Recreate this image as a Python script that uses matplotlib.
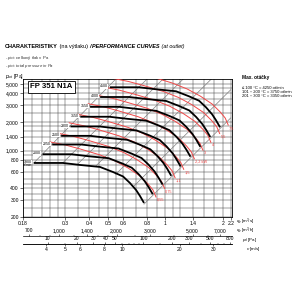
import matplotlib.pyplot as plt
import numpy as np
from matplotlib.ticker import NullFormatter

plt.rcParams['font.family'] = ['Liberation Sans', 'DejaVu Sans']
plt.rcParams['mathtext.fontset'] = 'custom'
plt.rcParams['mathtext.rm'] = 'Liberation Sans'
plt.rcParams['mathtext.it'] = 'Liberation Sans:italic'
plt.rcParams['mathtext.bf'] = 'Liberation Sans:bold'

# fan curves for each speed (q in m3/s, p_tot in Pa)
speed_labels = ["1800", "2000", "2250", "2500", "2800", "3150", "3550", "4000", "4500"]
black_q = [
    [0.205, 0.291, 0.358, 0.455, 0.532, 0.601, 0.653, 0.703, 0.737, 0.774],
    [0.228, 0.323, 0.398, 0.506, 0.591, 0.668, 0.726, 0.781, 0.819, 0.860],
    [0.256, 0.364, 0.448, 0.569, 0.665, 0.751, 0.816, 0.879, 0.921, 0.968],
    [0.285, 0.404, 0.497, 0.632, 0.739, 0.835, 0.907, 0.976, 1.024, 1.075],
    [0.319, 0.453, 0.557, 0.708, 0.828, 0.935, 1.016, 1.094, 1.146, 1.204],
    [0.359, 0.509, 0.627, 0.796, 0.931, 1.052, 1.143, 1.230, 1.290, 1.355],
    [0.404, 0.574, 0.706, 0.897, 1.049, 1.185, 1.288, 1.386, 1.454, 1.527],
    [0.456, 0.647, 0.796, 1.011, 1.182, 1.336, 1.451, 1.562, 1.638, 1.720],
    [0.513, 0.728, 0.895, 1.138, 1.330, 1.503, 1.633, 1.758, 1.843, 1.935],
]
black_p = [
    [740, 740, 705, 672, 595, 534, 456, 385, 333, 281],
    [914, 914, 870, 830, 735, 659, 563, 475, 411, 347],
    [1156, 1156, 1102, 1050, 930, 834, 713, 602, 520, 439],
    [1427, 1427, 1360, 1296, 1148, 1030, 880, 743, 642, 542],
    [1791, 1791, 1706, 1626, 1440, 1292, 1103, 932, 806, 680],
    [2266, 2266, 2159, 2058, 1822, 1635, 1397, 1179, 1020, 861],
    [2878, 2878, 2742, 2614, 2314, 2077, 1774, 1498, 1295, 1093],
    [3654, 3654, 3481, 3319, 2938, 2637, 2252, 1901, 1644, 1388],
    [4625, 4625, 4406, 4200, 3719, 3338, 2850, 2406, 2081, 1756],
]

# motor power limit curves (kW)
power_labels = ["0,55", "0,75", "1,1", "1,5", "2,2 kW", "3", "4", "5,5", "7,5"]
red_q = [
    [0.249, 0.299, 0.358, 0.455, 0.546, 0.638, 0.737, 0.812, 0.862, 0.894],
    [0.276, 0.331, 0.396, 0.504, 0.605, 0.707, 0.817, 0.900, 0.956, 0.991],
    [0.314, 0.376, 0.450, 0.573, 0.687, 0.803, 0.929, 1.023, 1.086, 1.126],
    [0.348, 0.417, 0.499, 0.636, 0.762, 0.891, 1.030, 1.134, 1.204, 1.249],
    [0.395, 0.474, 0.567, 0.722, 0.866, 1.012, 1.170, 1.289, 1.368, 1.419],
    [0.438, 0.526, 0.629, 0.801, 0.960, 1.123, 1.298, 1.430, 1.518, 1.574],
    [0.483, 0.578, 0.693, 0.882, 1.057, 1.236, 1.428, 1.574, 1.670, 1.732],
    [0.536, 0.643, 0.770, 0.980, 1.175, 1.374, 1.588, 1.749, 1.857, 1.926],
    [0.595, 0.713, 0.854, 1.087, 1.303, 1.523, 1.760, 1.940, 2.059, 2.136],
]
red_p = [
    [1232, 1145, 1039, 899, 777, 656, 540, 445, 385, 325],
    [1515, 1408, 1277, 1105, 955, 807, 664, 547, 473, 400],
    [1956, 1818, 1649, 1427, 1233, 1041, 857, 706, 611, 516],
    [2404, 2235, 2028, 1755, 1516, 1280, 1054, 868, 751, 634],
    [3104, 2885, 2618, 2265, 1958, 1653, 1361, 1121, 970, 819],
    [3819, 3550, 3221, 2787, 2409, 2034, 1674, 1380, 1194, 1008],
    [4627, 4300, 3902, 3376, 2918, 2464, 2028, 1671, 1446, 1220],
    [5718, 5315, 4823, 4173, 3607, 3045, 2506, 2066, 1787, 1509],
    [7030, 6533, 5928, 5130, 4434, 3743, 3081, 2539, 2197, 1854],
]

# system lines (p ~ q^2): lower and upper ends
diag_q = [(0.205, 0.551), (0.291, 0.803), (0.345, 0.974), (0.43, 1.242),
          (0.55, 1.743), (0.68, 2.2), (0.774, 2.2)]
diag_p = [(740, 5650), (742, 5650), (708, 5650), (678, 5650),
          (562, 5650), (416, 4350), (273, 2200)]

x_ticks = [0.18, 0.3, 0.4, 0.5, 0.6, 0.8, 1, 1.4, 2, 2.2]
x_labels = ["0.18", "0.3", "0.4", "0.5", "0.6", "0.8", "1", "1.4", "2", "2.2"]
x_grid = [0.2, 0.225, 0.25, 0.275, 0.35, 0.45, 0.55, 0.7, 0.9, 1.1, 1.2, 1.6, 1.8]
y_ticks = [200, 300, 400, 600, 800, 1000, 1400, 2000, 3000, 4000, 5000]
y_labels = ["200", "300", "400", "600", "800", "1,000", "1,400", "2,000",
            "3,000", "4,000", "5,000"]
y_grid = [250, 350, 450, 500, 700, 900, 1200, 1600, 1800, 2500, 3500, 4500]
m3h_ticks = [700, 1000, 1400, 2000, 3000, 5000, 7000]
m3h_labels = ["700", "1,000", "1,400", "2,000", "3,000", "5,000", "7,000"]
m3h_minor = [800, 900, 1200, 1600, 1800, 2500, 4000, 6000]
pd_ticks = [10, 20, 30, 40, 50, 100, 200, 300, 500, 800]
pd_minor = [15, 60, 70, 80, 90, 150, 400, 600, 700]
v_ticks = [4, 5, 6, 8, 10, 20, 30]
v_minor = [7, 9, 15, 25]

duct_area = 0.0595  # m2, from the velocity scale
RED = '#f04848'
FS = 3.6


def to_m3h(q):
    return np.asarray(q) * 3600.0


def from_m3h(x):
    return np.asarray(x) / 3600.0


def to_pd(q):
    return 0.6 * (np.asarray(q) / duct_area) ** 2


def from_pd(pd):
    return duct_area * np.sqrt(np.clip(pd, 1e-9, None) / 0.6)


def to_v(q):
    return np.asarray(q) / duct_area


def from_v(v):
    return np.asarray(v) * duct_area


fig = plt.figure(figsize=(3, 3), dpi=100)
ax = fig.add_axes([23 / 300, 83 / 300, 209 / 300, 138 / 300])
ax.set_xscale('log')
ax.set_yscale('log')
ax.set_xlim(0.18, 2.235)
ax.set_ylim(200, 5650)

ax.set_xticks(x_ticks, labels=x_labels)
ax.set_xticks(x_grid, minor=True)
ax.set_yticks(y_ticks, labels=y_labels)
ax.set_yticks(y_grid, minor=True)
ax.xaxis.set_minor_formatter(NullFormatter())
ax.yaxis.set_minor_formatter(NullFormatter())
ax.tick_params(which='major', labelsize=FS, length=2, width=0.4, pad=1)
ax.tick_params(which='minor', length=0)
ax.grid(which='both', color='#3c3c3c', lw=0.35)
ax.set_axisbelow(True)
for s in ax.spines.values():
    s.set_linewidth(0.6)

for qq, pp in zip(diag_q, diag_p):
    ax.plot(qq, pp, color='#808080', lw=0.5, zorder=2)

for qq, pp, lbl in zip(red_q, red_p, power_labels):
    ax.plot(qq, pp, color=RED, lw=0.7, zorder=3)
    ax.annotate(lbl, xy=(qq[-1], pp[-1]), xytext=(0.6, -2.2),
                textcoords='offset points', ha='left', va='center',
                fontsize=2.8, color=RED, zorder=5)

for qq, pp, lbl in zip(black_q, black_p, speed_labels):
    ax.plot(qq, pp, color='black', lw=1.3, zorder=4, solid_capstyle='butt')
    ax.annotate(lbl, xy=(qq[0], pp[0]), xytext=(-1.2, 0.6),
                textcoords='offset points', ha='right', va='center',
                fontsize=2.6, zorder=5,
                bbox=dict(boxstyle='square,pad=0.05', fc='white', ec='none'))
ax.annotate('ot/min', xy=(black_q[0][0], black_p[0][0]), xytext=(-1.2, -1.8),
            textcoords='offset points', ha='right', va='center', fontsize=2.4,
            zorder=5)

# secondary scales below the chart
sec_h = ax.secondary_xaxis(-0.1377, functions=(to_m3h, from_m3h))
sec_h.set_alignment('top')
sec_h.set_ticks(m3h_ticks, labels=m3h_labels)
sec_h.set_ticks(m3h_minor, minor=True)

sec_pd = ax.secondary_xaxis(-0.1957, functions=(to_pd, from_pd))
sec_pd.set_alignment('top')
sec_pd.set_ticks(pd_ticks, labels=[str(t) for t in pd_ticks])
sec_pd.set_ticks(pd_minor, minor=True)

sec_v = ax.secondary_xaxis(-0.1957, functions=(to_v, from_v))
sec_v.set_ticks(v_ticks, labels=[str(t) for t in v_ticks])
sec_v.set_ticks(v_minor, minor=True)

for sec in (sec_h, sec_pd, sec_v):
    sec.xaxis.set_minor_formatter(NullFormatter())
    sec.tick_params(which='major', labelsize=FS, length=1.5, width=0.4, pad=0.8)
    sec.tick_params(which='minor', length=1, width=0.3)
    for s in sec.spines.values():
        s.set_linewidth(0.5)

# axis names
fig.text(236 / 300, 1 - 222 / 300, r"$q_v$ [m$^3$/s]", fontsize=3.2, va='center')
fig.text(236 / 300, 1 - 231 / 300, r"$q_v$ [m$^3$/h]", fontsize=3.2, va='center')
fig.text(242 / 300, 1 - 240 / 300, r"$p_d$ [Pa]", fontsize=3.2, va='center')
fig.text(246 / 300, 1 - 249 / 300, r"$v$ [m/s]", fontsize=3.2, va='center')
fig.text(5 / 300, 1 - 77 / 300, r"$p_{tot}$ [Pa]", fontsize=FS, va='center')

# title line in four styles
t1 = fig.text(5 / 300, 1 - 49 / 300, "CHARAKTERISTIKY", fontsize=4.0,
              fontweight='bold', va='bottom')
t2 = ax.annotate(" (na výtlaku) ", xy=(1, 0), xycoords=t1, fontsize=4.0,
                 va='bottom')
t3 = ax.annotate("/ PERFORMANCE CURVES", xy=(1, 0), xycoords=t2, fontsize=4.0,
                 va='bottom', fontweight='bold', fontstyle='italic')
ax.annotate(" (at outlet)", xy=(1, 0), xycoords=t3, fontsize=4.0,
            va='bottom', fontstyle='italic')

fig.text(5 / 300, 1 - 58 / 300, r"- $p_{tot}$: celkový tlak v Pa", fontsize=3.1,
         va='center', color='#333333')
fig.text(5 / 300, 1 - 66 / 300, r"- $p_{tot}$: $\it{total\ pressure\ in\ Pa}$",
         fontsize=3.1, va='center', color='#333333')

fig.text(51.5 / 300, 1 - 87 / 300, "FP 351 N1A", fontsize=5.6, fontweight='bold',
         ha='center', va='center', zorder=10,
         bbox=dict(boxstyle='square,pad=0.35', fc='white', ec='black', lw=0.6))

fig.text(242 / 300, 1 - 78 / 300, "Max. otáčky", fontsize=3.4,
         fontweight='bold', va='center')
fig.text(242 / 300, 1 - 88 / 300, "≤ 100 °C = 4250 ot/min", fontsize=3.0, va='center')
fig.text(242 / 300, 1 - 92 / 300, "101 ÷ 200 °C = 3750 ot/min", fontsize=3.0,
         va='center')
fig.text(242 / 300, 1 - 96 / 300, "201 ÷ 300 °C = 3350 ot/min", fontsize=3.0,
         va='center')

fig.savefig('out.png', dpi=100)
